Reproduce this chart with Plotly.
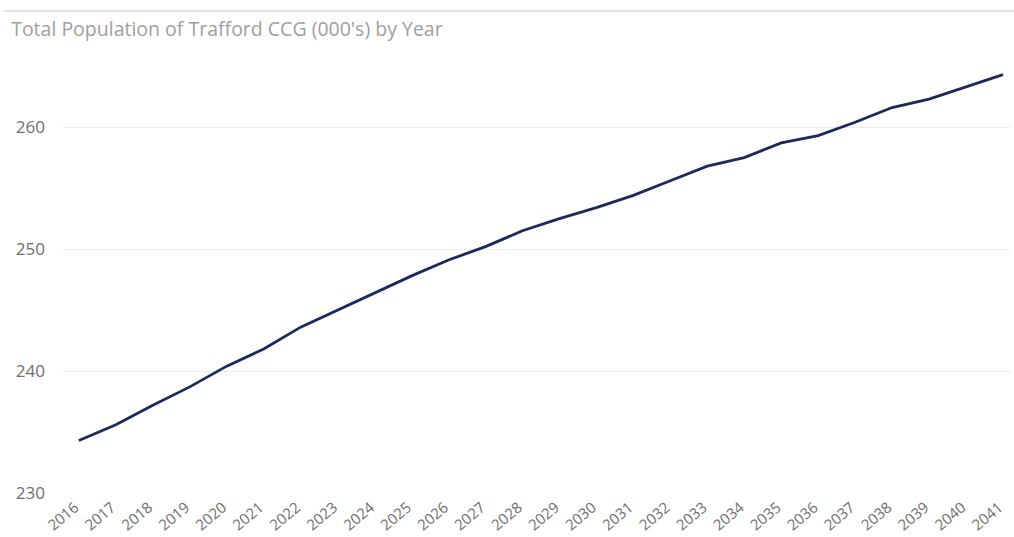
import plotly.graph_objects as go

years = list(range(2016, 2042))
population = [234.3, 235.6, 237.2, 238.7, 240.4, 241.8, 243.6, 245.0, 246.4, 247.8,
              249.1, 250.2, 251.5, 252.5, 253.4, 254.4, 255.6, 256.8, 257.5, 258.7,
              259.3, 260.4, 261.6, 262.3, 263.3, 264.3]
y_ticks = [230, 240, 250, 260]
title_text = "Total Population of Trafford CCG (000's) by Year"

fig = go.Figure()
fig.add_trace(go.Scatter(
    x=years, y=population, mode="lines",
    line=dict(color="#1c295c", width=2.8),
    hoverinfo="x+y", showlegend=False,
))

fig.update_layout(
    width=1014, height=537,
    margin=dict(l=63, r=4, t=60, b=44),
    paper_bgcolor="white", plot_bgcolor="white",
    font=dict(family="Open Sans, Segoe UI, sans-serif", color="#666666"),
    title=dict(text=title_text, x=0.011, xref="container", xanchor="left",
               y=0.945, yref="container", yanchor="middle",
               font=dict(size=19.5, color="#a0a0a0", family="Open Sans, sans-serif")),
    xaxis=dict(
        tickmode="array", tickvals=years, ticktext=[str(y) for y in years],
        range=[2015.57, 2041.19], tickangle=-40,
        showgrid=False, zeroline=False, showline=False, ticks="",
        tickfont=dict(size=15, color="#6e6e6e"), automargin=False,
        ticklabelstandoff=2, ticklabelshift=-4,
    ),
    yaxis=dict(
        tickmode="array", tickvals=y_ticks, range=[230, 265.5],
        showgrid=True, gridcolor="#ececec", gridwidth=1,
        zeroline=False, showline=False, ticks="",
        tickfont=dict(size=17, color="#6e6e6e"),
        ticklabelstandoff=17, automargin=False,
    ),
    shapes=[dict(type="line", xref="paper", yref="paper",
                 x0=-0.062, x1=1.004, y0=1.113, y1=1.113,
                 line=dict(color="#e2e2e2", width=2))],
)

fig.write_html("out.html")
